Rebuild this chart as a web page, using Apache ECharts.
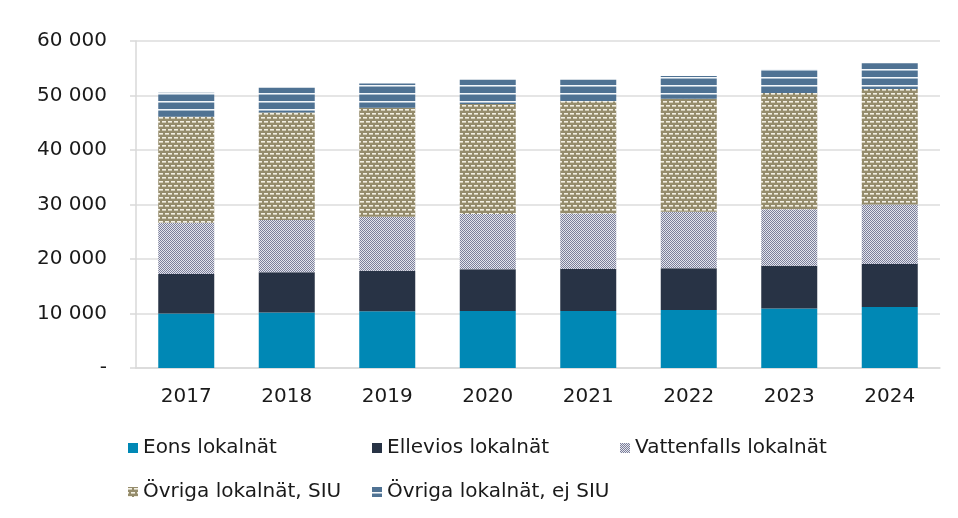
<!DOCTYPE html>
<html>
<head>
<meta charset="utf-8">
<script src="https://cdn.jsdelivr.net/npm/echarts@6/dist/echarts.min.js"></script>
<style>
  html, body { margin: 0; padding: 0; background: #fff; }
  #chart { width: 958px; height: 518px; }
</style>
</head>
<body>
<div id="chart"></div>
<script>
// data
const years = ['2017', '2018', '2019', '2020', '2021', '2022', '2023', '2024'];
const eons = [10000, 10200, 10400, 10450, 10450, 10650, 10900, 11200];
const ellevios = [7250, 7350, 7450, 7650, 7700, 7650, 7850, 7900];
const vattenfalls = [9400, 9600, 9900, 10150, 10200, 10350, 10400, 10900];
const ovrigaSiu = [19450, 19750, 20000, 20200, 20600, 20750, 21300, 21200];
const ovrigaEjSiu = [4400, 4500, 4450, 4450, 3950, 4200, 4400, 4700];
const yTicks = [0, 10000, 20000, 30000, 40000, 50000, 60000];

const FONT = 'DejaVu Sans';

// small canvas tiles for the hatched fills
function makeTile(w, h, draw) {
  const c = document.createElement('canvas');
  c.width = w;
  c.height = h;
  draw(c.getContext('2d'));
  return { image: c, repeat: 'repeat' };
}

const checkFill = makeTile(2, 2, (ctx) => {
  ctx.fillStyle = '#e4e5ec';
  ctx.fillRect(0, 0, 2, 2);
  ctx.fillStyle = '#7b7f9b';
  ctx.fillRect(0, 0, 1, 1);
  ctx.fillRect(1, 1, 1, 1);
});

const dashFill = makeTile(6, 8, (ctx) => {
  ctx.fillStyle = '#958c6c';
  ctx.fillRect(0, 0, 6, 8);
  ctx.fillStyle = '#f3f0e4';
  ctx.fillRect(0, 1, 4, 1);
  ctx.fillRect(3, 5, 4, 1);
  ctx.fillRect(-3, 5, 4, 1);
  ctx.fillStyle = '#cfc9b3';
  ctx.fillRect(0, 2, 4, 1);
  ctx.fillRect(3, 6, 4, 1);
  ctx.fillRect(-3, 6, 4, 1);
});

const lineFill = makeTile(4, 8, (ctx) => {
  ctx.fillStyle = '#4f7293';
  ctx.fillRect(0, 0, 4, 8);
  ctx.fillStyle = '#f4f7fa';
  ctx.fillRect(0, 5, 4, 1);
  ctx.fillStyle = '#a9bccd';
  ctx.fillRect(0, 6, 4, 1);
});

const seriesDefs = [
  { name: 'Eons lokalnät', data: eons, color: '#0088b5' },
  { name: 'Ellevios lokalnät', data: ellevios, color: '#283345' },
  { name: 'Vattenfalls lokalnät', data: vattenfalls, color: checkFill },
  { name: 'Övriga lokalnät, SIU', data: ovrigaSiu, color: dashFill },
  { name: 'Övriga lokalnät, ej SIU', data: ovrigaEjSiu, color: lineFill }
];

// legend spots (two rows, three columns)
const legendPos = [
  { left: 128, top: 438 },
  { left: 372, top: 438 },
  { left: 620, top: 438 },
  { left: 128, top: 482 },
  { left: 372, top: 482 }
];

const myChart = echarts.init(document.getElementById('chart'));

const option = {
  animation: false,
  backgroundColor: '#fff',
  grid: { left: 136, right: 18, top: 41, bottom: 150 },
  legend: seriesDefs.map((s, i) => ({
    data: [s.name],
    left: legendPos[i].left,
    top: legendPos[i].top,
    icon: 'rect',
    itemWidth: 10,
    itemHeight: 10,
    itemGap: 0,
    padding: 0,
    textStyle: { fontFamily: FONT, fontSize: 20, color: '#1a1a1a' }
  })),
  xAxis: {
    type: 'category',
    data: years,
    axisLine: { lineStyle: { color: '#d9d9d9', width: 1.5 } },
    axisTick: { show: false },
    axisLabel: { fontFamily: FONT, fontSize: 20, color: '#1a1a1a', margin: 19 }
  },
  yAxis: {
    type: 'value',
    min: yTicks[0],
    max: yTicks[yTicks.length - 1],
    interval: 10000,
    axisLine: { show: true, lineStyle: { color: '#d9d9d9', width: 1.5 } },
    axisTick: { show: true, length: 6, lineStyle: { color: '#d9d9d9', width: 1.5 } },
    splitLine: { lineStyle: { color: '#dcdcdc', width: 1.5 } },
    axisLabel: {
      fontFamily: FONT,
      fontSize: 20,
      color: '#1a1a1a',
      margin: 29,
      formatter: (v) => (v === 0 ? '-' : String(v).replace(/\B(?=(\d{3})+(?!\d))/g, ' '))
    }
  },
  series: seriesDefs.map((s) => ({
    name: s.name,
    type: 'bar',
    stack: 'total',
    barWidth: 56,
    data: s.data,
    itemStyle: { color: s.color }
  }))
};

myChart.setOption(option);
</script>
</body>
</html>
